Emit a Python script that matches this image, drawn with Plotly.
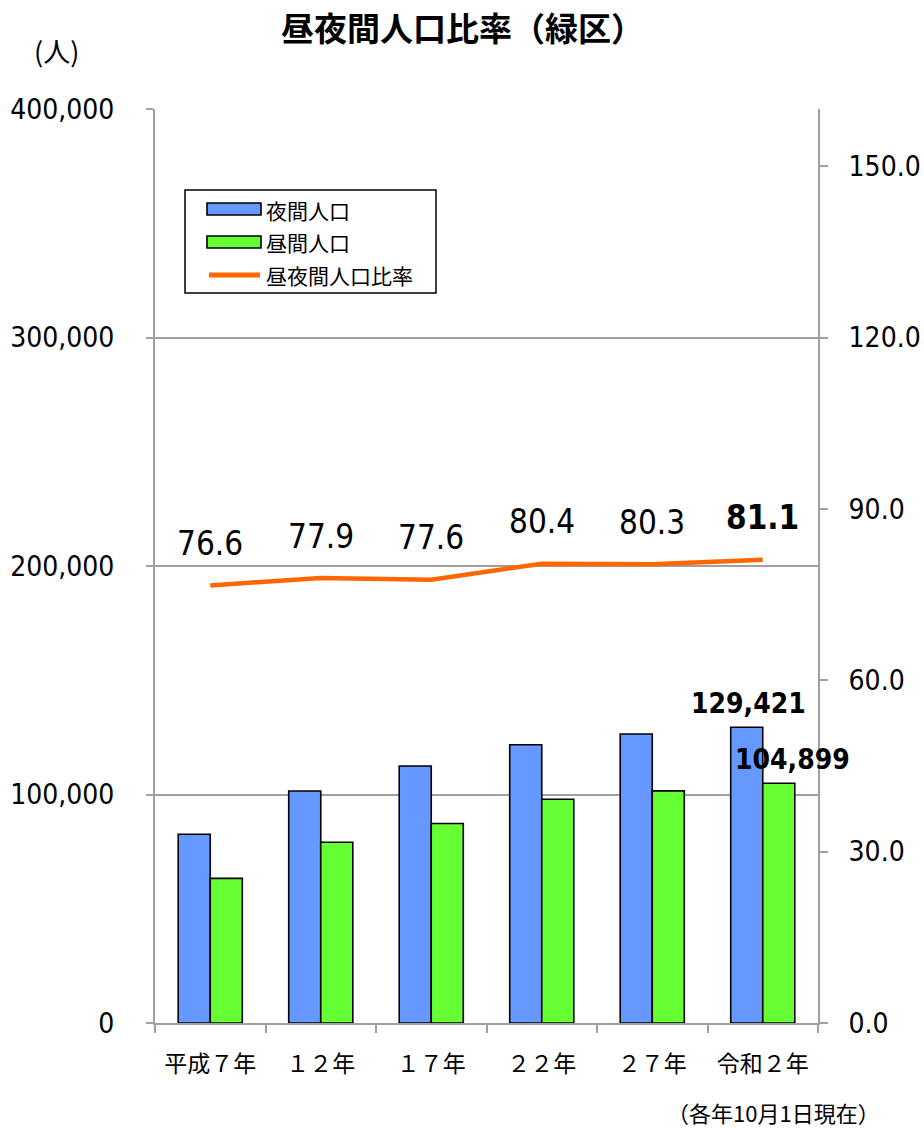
import plotly.graph_objects as go

# 緑区 昼夜間人口の推移（各年10月1日現在）
years = ["平成７年", "１２年", "１７年", "２２年", "２７年", "令和２年"]
night_pop = [82600, 101500, 112500, 121800, 126500, 129421]   # 夜間人口
day_pop = [63300, 79100, 87300, 97900, 101600, 104899]        # 昼間人口
ratio = [76.6, 77.9, 77.6, 80.4, 80.3, 81.1]                  # 昼夜間人口比率

left_ticks = [0, 100000, 200000, 300000, 400000]
right_ticks = [0, 30, 60, 90, 120, 150]

NUM_FONT = "DejaVu Sans Condensed, DejaVu Sans, sans-serif"
JP_FONT = "Noto Sans CJK JP, sans-serif"
GRID = "#A0A0A0"

W, H = 924, 1131
L, R, T, B = 155, 818, 109, 1023


def px(x):
    return (x - L) / (R - L)


def py(y):
    return (B - y) / (B - T)


fig = go.Figure()
fig.add_trace(go.Bar(
    x=years, y=night_pop, name="夜間人口",
    marker=dict(color="#6699FF", line=dict(color="black", width=1.6)),
    showlegend=False,
))
fig.add_trace(go.Bar(
    x=years, y=day_pop, name="昼間人口",
    marker=dict(color="#66FF33", line=dict(color="black", width=1.6)),
    showlegend=False,
))
fig.add_trace(go.Scatter(
    x=years, y=ratio, name="昼夜間人口比率", yaxis="y2", mode="lines",
    line=dict(color="#FF6600", width=4.5),
    showlegend=False,
))

annotations = []
# ratio labels above the line
for i, (cat, v) in enumerate(zip(years, ratio)):
    last = i == len(ratio) - 1
    annotations.append(dict(
        x=cat, y=v, xref="x", yref="y2", yshift=42, showarrow=False,
        xanchor="center", yanchor="middle",
        text=f"<b>{v:.1f}</b>" if last else f"{v:.1f}",
        font=dict(family=NUM_FONT, size=33, color="black"),
    ))

# latest-year population labels
annotations.append(dict(
    x=years[-1], y=night_pop[-1], xref="x", yref="y", xshift=-14, yshift=24,
    xanchor="center", yanchor="middle",
    showarrow=False, text=f"<b>{night_pop[-1]:,}</b>",
    font=dict(family=NUM_FONT, size=28, color="black"),
))
annotations.append(dict(
    x=years[-1], y=day_pop[-1], xref="x", yref="y", xshift=30, yshift=24,
    xanchor="center", yanchor="middle",
    showarrow=False, text=f"<b>{day_pop[-1]:,}</b>",
    font=dict(family=NUM_FONT, size=28, color="black"),
))

# title, unit and note
annotations.append(dict(
    x=px(462), y=py(27), xref="paper", yref="paper", showarrow=False,
    xanchor="center", yanchor="middle",
    text="<b>昼夜間人口比率（緑区）</b>",
    font=dict(family=JP_FONT, size=33, color="black"),
))
annotations.append(dict(
    x=px(56), y=py(50), xref="paper", yref="paper", showarrow=False,
    xanchor="center", yanchor="middle",
    text="(人)", font=dict(family=JP_FONT, size=27, color="black"),
))
annotations.append(dict(
    x=px(882), y=py(1112), xref="paper", yref="paper", showarrow=False,
    xanchor="right", yanchor="middle", text="（各年10月1日現在）",
    font=dict(family=JP_FONT, size=22, color="black"),
))

# legend box
shapes = [
    dict(type="rect", xref="paper", yref="paper",
         x0=px(185), x1=px(436), y0=py(293), y1=py(190),
         line=dict(color="black", width=1.5), fillcolor="white", layer="above"),
    dict(type="rect", xref="paper", yref="paper",
         x0=px(207), x1=px(261), y0=py(215), y1=py(203),
         line=dict(color="black", width=1.6), fillcolor="#6699FF", layer="above"),
    dict(type="rect", xref="paper", yref="paper",
         x0=px(207), x1=px(261), y0=py(248), y1=py(236),
         line=dict(color="black", width=1.6), fillcolor="#66FF33", layer="above"),
    dict(type="line", xref="paper", yref="paper",
         x0=px(209), x1=px(260), y0=py(275), y1=py(275),
         line=dict(color="#FF6600", width=5), layer="above"),
]
for label, yc in [("夜間人口", 210), ("昼間人口", 242), ("昼夜間人口比率", 275)]:
    annotations.append(dict(
        x=px(264), y=py(yc), xref="paper", yref="paper", showarrow=False,
        xanchor="left", yanchor="middle", text=label,
        font=dict(family=JP_FONT, size=21, color="black"),
    ))

fig.update_layout(
    width=W, height=H,
    margin=dict(l=L, r=W - R, t=T, b=H - B, pad=0, autoexpand=False),
    paper_bgcolor="white", plot_bgcolor="white",
    barmode="group", bargap=0.42, bargroupgap=0,
    showlegend=False,
    xaxis=dict(
        type="category", range=[-0.5, len(years) - 0.5], automargin=False,
        showline=True, linecolor=GRID, linewidth=2,
        ticks="outside", tickson="boundaries", ticklen=8, tickwidth=2, tickcolor=GRID,
        showgrid=False, ticklabelstandoff=19,
        tickfont=dict(family=JP_FONT, size=23, color="black"),
    ),
    yaxis=dict(
        range=[0, 400000], tickvals=left_ticks, tickformat=",", automargin=False,
        showline=True, linecolor=GRID, linewidth=2,
        ticks="outside", ticklen=7, tickwidth=2, tickcolor=GRID,
        showgrid=True, gridcolor=GRID, gridwidth=2, zeroline=False,
        ticklabelstandoff=26,
        tickfont=dict(family=NUM_FONT, size=28, color="black"),
    ),
    yaxis2=dict(
        overlaying="y", side="right", range=[0, 160], tickvals=right_ticks,
        tickformat=".1f", automargin=False,
        showline=True, linecolor=GRID, linewidth=2,
        ticks="outside", ticklen=8, tickwidth=2, tickcolor=GRID,
        showgrid=False, zeroline=False, ticklabelstandoff=15,
        tickfont=dict(family=NUM_FONT, size=28, color="black"),
    ),
    annotations=annotations,
    shapes=shapes,
)

fig.write_html("out.html")
